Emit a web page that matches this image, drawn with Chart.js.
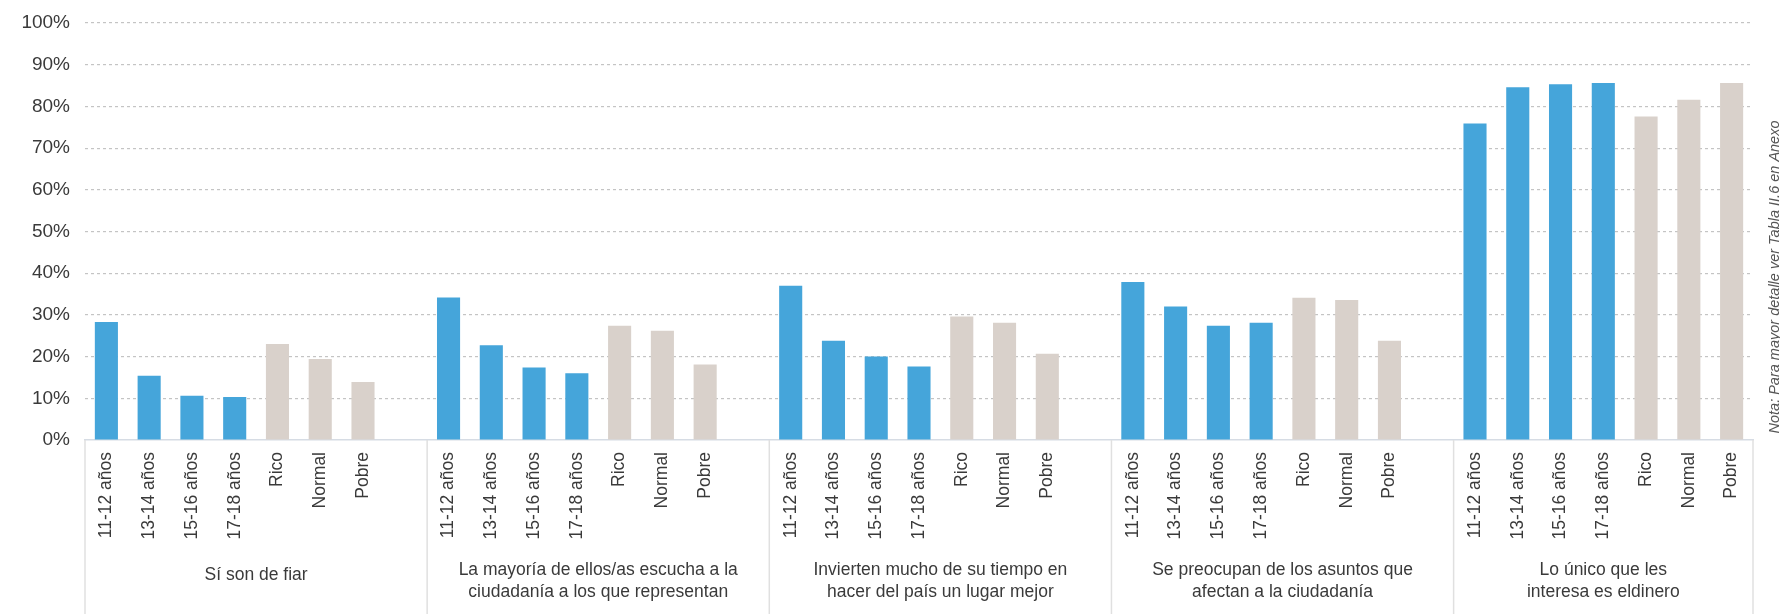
<!DOCTYPE html>
<html>
<head>
<meta charset="utf-8">
<script src="https://cdn.jsdelivr.net/npm/chart.js@4"></script>
<style>
    body { margin: 0; background: #fff; }
    #wrap { width: 1780px; height: 614px; position: relative; }
</style>
</head>
<body>
<div id="wrap"><canvas id="chart"></canvas></div>
<script>
// =======================
// DATA
// =======================
const groupNames = [
    ["Sí son de fiar"],
    ["La mayoría de ellos/as escucha a la", "ciudadanía a los que representan"],
    ["Invierten mucho de su tiempo en", "hacer del país un lugar mejor"],
    ["Se preocupan de los asuntos que", "afectan a la ciudadanía"],
    ["Lo único que les", "interesa es eldinero"]
];

const subLabels = ["11-12 años", "13-14 años", "15-16 años", "17-18 años", "Rico", "Normal", "Pobre"];

const sonDeFiar   = [28.3, 15.4, 10.6, 10.3, 23.0, 19.4, 13.9];
const escuchan    = [34.2, 22.7, 17.4, 16.0, 27.4, 26.2, 18.1];
const invierten   = [37.0, 23.8, 20.0, 17.6, 29.6, 28.1, 20.7];
const preocupan   = [37.9, 32.0, 27.4, 28.1, 34.1, 33.6, 23.8];
const soloDinero  = [75.9, 84.6, 85.3, 85.6, 77.6, 81.6, 85.6];

const groupValues = [sonDeFiar, escuchan, invierten, preocupan, soloDinero];

const yTicks = [0, 10, 20, 30, 40, 50, 60, 70, 80, 90, 100];

const note = "Nota: Para mayor detalle ver Tabla II.6 en Anexo";

// =======================
// BUILD CATEGORIES (7 bars + 1 empty slot per group)
// =======================
const BLUE = "#45a5da";
const BEIGE = "#d9d1cb";
const SLOTS = 8;
const FONT = "'Liberation Sans', Arial, sans-serif";

const labels = [];
const values = [];
const colors = [];

groupValues.forEach((vals, g) => {
    vals.forEach((v, i) => {
        labels.push(subLabels[i]);
        values.push(v);
        colors.push(i < 4 ? BLUE : BEIGE);
    });
    if (g < groupValues.length - 1) {
        labels.push("");
        values.push(null);
        colors.push(BLUE);
    }
});

// =======================
// GROUP LABELS + DIVIDERS
// =======================
const groupPlugin = {
    id: "groups",
    afterDraw(chart) {
        const ctx = chart.ctx;
        const xs = chart.scales.x;
        const area = chart.chartArea;
        const slot = xs.getPixelForValue(1) - xs.getPixelForValue(0);
        const bottom = chart.height;

        ctx.save();
        ctx.strokeStyle = "#e0e0e0";
        ctx.lineWidth = 1.5;

        groupNames.forEach((lines, g) => {
            const left = xs.getPixelForValue(g * SLOTS) - slot / 2;
            const right = Math.min(left + slot * SLOTS, area.right);

            ctx.beginPath();
            ctx.moveTo(left, area.bottom);
            ctx.lineTo(left, bottom);
            ctx.stroke();

            const cx = (left + right) / 2;
            ctx.fillStyle = "#3a3a3a";
            ctx.font = "17.5px " + FONT;
            ctx.textAlign = "center";
            ctx.textBaseline = "middle";
            const y0 = lines.length === 1 ? 575 : 570;
            lines.forEach((t, k) => ctx.fillText(t, cx, y0 + k * 22));
        });

        ctx.beginPath();
        ctx.moveTo(area.right, area.bottom);
        ctx.lineTo(area.right, bottom);
        ctx.stroke();

        // note on the right edge
        ctx.translate(1779, 277);
        ctx.rotate(-Math.PI / 2);
        ctx.fillStyle = "#555";
        ctx.font = "italic 14.5px " + FONT;
        ctx.textAlign = "center";
        ctx.textBaseline = "alphabetic";
        ctx.fillText(note, 0, 0);
        ctx.restore();
    }
};

// =======================
// CHART
// =======================
new Chart(document.getElementById("chart"), {
    type: "bar",
    data: {
        labels: labels,
        datasets: [{
            data: values,
            backgroundColor: colors,
            categoryPercentage: 1,
            barPercentage: 0.54
        }]
    },
    options: {
        responsive: true,
        maintainAspectRatio: false,
        animation: false,
        layout: { padding: { top: 23, right: 27, left: 0, bottom: 0 } },
        plugins: {
            legend: { display: false },
            tooltip: { enabled: false }
        },
        scales: {
            x: {
                grid: { display: false, drawTicks: false },
                border: { display: true, color: "#d6dce4", width: 1.5 },
                ticks: {
                    autoSkip: false,
                    minRotation: 90,
                    maxRotation: 90,
                    padding: 12,
                    color: "#3a3a3a",
                    font: { family: FONT, size: 17.5 }
                },
                afterFit: s => { s.height = 174; }
            },
            y: {
                min: 0,
                max: 100,
                afterBuildTicks: s => { s.ticks = yTicks.map(v => ({ value: v })); },
                grid: {
                    drawTicks: false,
                    color: c => (c.tick && c.tick.value === 0) ? "rgba(0,0,0,0)" : "#c4c4c4",
                    lineWidth: 1.2
                },
                border: { display: false, dash: [3, 3] },
                ticks: {
                    padding: 15,
                    color: "#3a3a3a",
                    font: { family: FONT, size: 19 },
                    callback: v => v + "%"
                },
                afterFit: s => {
                    s.width = 85;
                    s.paddingTop = 0;
                    s.paddingBottom = 0;
                }
            }
        }
    },
    plugins: [groupPlugin]
});
</script>
</body>
</html>
